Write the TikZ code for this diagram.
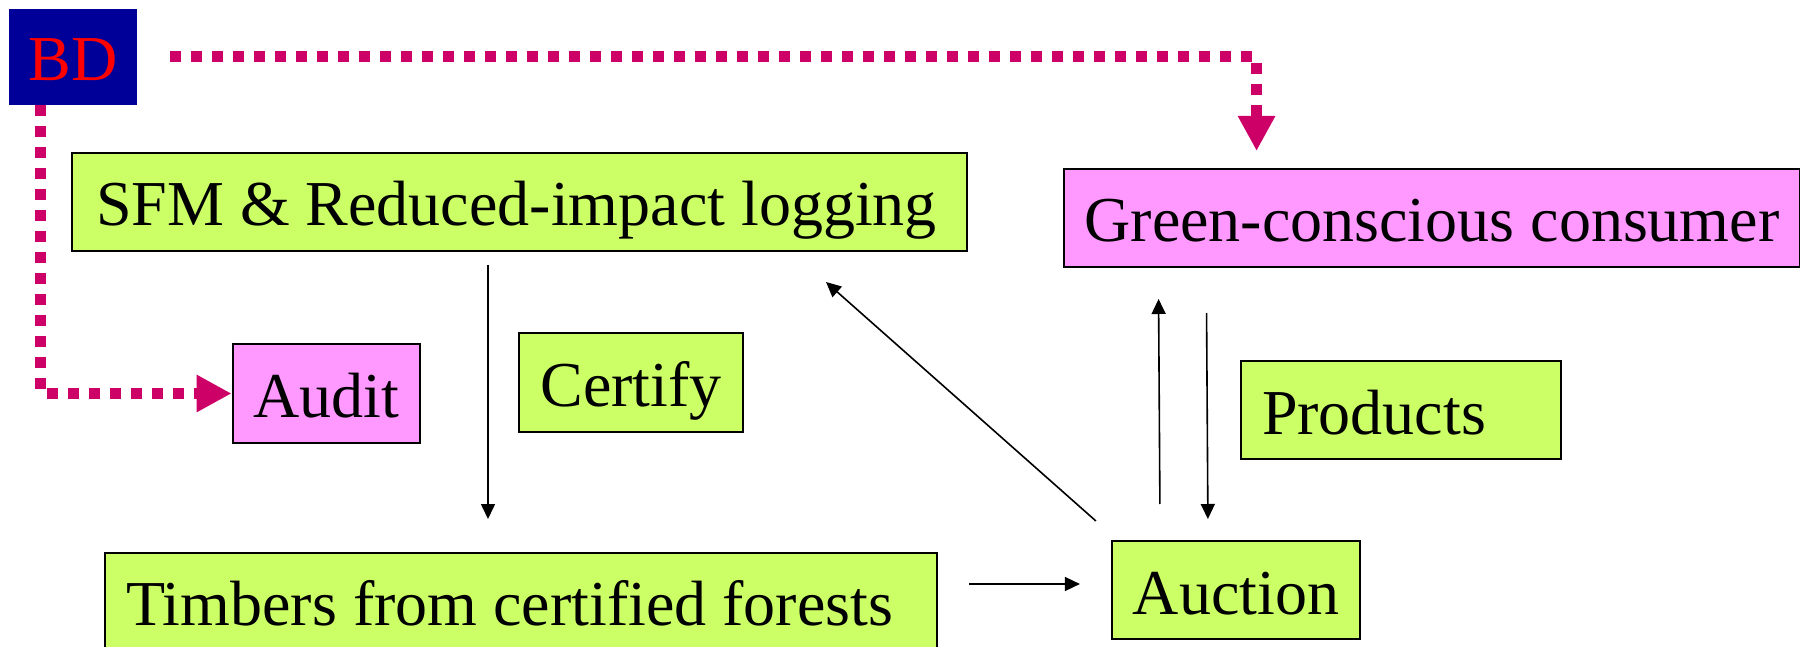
\documentclass[tikz,border=0pt]{standalone}
\usepackage{fontspec}
\setmainfont{Liberation Serif}
\usepackage{xcolor}
\usetikzlibrary{arrows.meta}
\definecolor{limefill}{HTML}{CCFF66}
\definecolor{pinkfill}{HTML}{FF99FF}
\definecolor{bdblue}{HTML}{000099}
\definecolor{dotline}{HTML}{CC0066}

\begin{document}
\begin{tikzpicture}[
  x=1pt,y=-1pt,
  big/.style={font=\fontsize{64}{70}\selectfont,text height=62pt,text depth=14pt},
  box/.style={big,draw,line width=2pt,fill=limefill,minimum height=98pt,inner xsep=21pt},
  pbox/.style={box,fill=pinkfill},
  flow/.style={-{Triangle[length=15pt,width=14pt]},line width=1.6pt},
  dots/.style={-{Triangle[length=35pt,width=35pt]},draw=dotline,line width=11pt,
               dash pattern=on 11pt off 10pt}
]
\useasboundingbox (0,0) rectangle (1800,647);
\node[big,fill=bdblue,text=red,minimum width=128pt,minimum height=96pt,inner sep=0pt] (bd) at (73,57) {BD};
\node[box,inner xsep=24pt] (sfm) at (519.5,202) {\makebox[847pt][l]{SFM \& Reduced-impact logging}};
\node[pbox,minimum width=734pt] (green) at (1432,218) {Green-conscious consumer};
\node[pbox,minimum width=187pt,minimum height=99pt] (audit) at (326.5,393.5) {Audit};
\node[box,minimum width=222pt,minimum height=99pt] (certify) at (631,382.5) {Certify};
\node[box] (products) at (1401,410) {\makebox[278pt][l]{Products}};
\node[box,minimum height=97pt] (timber) at (521,601.5) {\makebox[790pt][l]{Timbers from certified forests}};
\node[box,minimum width=248pt] (auc) at (1236,590) {Auction};

\draw[dots,shorten <=33pt,shorten >=17pt] (bd.east) -| ([xshift=194pt]green.north west);
\draw[dots] ([xshift=32pt]bd.south west) |- (audit.west);

\draw[flow,shorten <=13pt,shorten >=33pt] ([xshift=417pt]sfm.south west) -- ([xshift=384pt]timber.north west);
\draw[flow,shorten <=31pt,shorten >=31pt] ([yshift=17.5pt]timber.east) -- ([yshift=6pt]auc.west);
\draw[flow] ([shift={(-15pt,19pt)}]auc.north west) -- ([shift={(-142pt,-30pt)}]sfm.south east);
\draw[flow] ([shift={(49pt,36pt)}]auc.north west) -- ([shift={(96pt,-31pt)}]green.south west);
\draw[flow] ([shift={(144pt,-45pt)}]green.south west) -- ([shift={(97pt,21pt)}]auc.north west);
\end{tikzpicture}
\end{document}
